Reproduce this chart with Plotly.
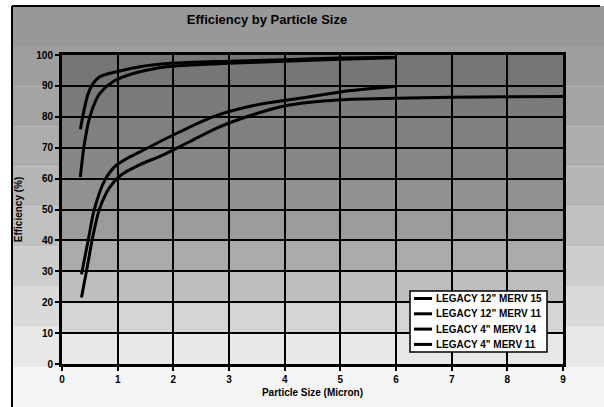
import plotly.graph_objects as go

# ---- data ----
x_12_m15 = [0.33, 0.40, 0.47, 0.56, 0.68, 0.98, 1.40, 1.94, 3.0, 4.0, 5.0, 6.0]
y_12_m15 = [76.0, 82.5, 87.5, 90.8, 93.0, 94.6, 96.2, 97.3, 98.0, 98.5, 99.0, 99.3]

x_12_m11 = [0.33, 0.40, 0.50, 0.60, 0.68, 0.92, 1.28, 1.88, 3.0, 4.0, 5.0, 6.0]
y_12_m11 = [60.5, 71.0, 80.0, 85.0, 87.6, 91.4, 94.0, 96.2, 97.3, 98.0, 98.6, 99.1]

x_4_m14 = [0.35, 0.47, 0.58, 0.77, 0.98, 1.58, 2.10, 2.71, 3.40, 4.27, 5.20, 6.0]
y_4_m14 = [29.0, 40.0, 50.0, 59.5, 64.4, 70.3, 75.0, 80.0, 83.5, 86.0, 88.5, 89.8]

x_4_m11 = [0.35, 0.45, 0.54, 0.67, 0.85, 1.05, 1.40, 1.80, 2.30, 2.80, 3.40, 4.0, 5.0, 6.0, 7.0, 8.0, 9.0]
y_4_m11 = [21.5, 31.0, 40.0, 50.0, 57.0, 61.0, 64.5, 67.5, 72.0, 76.5, 80.5, 83.5, 85.5, 86.0, 86.3, 86.5, 86.6]

series_names = ['LEGACY 12" MERV 15', 'LEGACY 12" MERV 11', 'LEGACY 4" MERV 14', 'LEGACY 4" MERV 11']
x_ticks = list(range(0, 10))
y_ticks = list(range(0, 101, 10))

# background shading bands (bottom value, gray level)
plot_bands_lo = [0, 10, 20, 30, 40, 50, 60, 70, 80, 90]
plot_band_gray = [232, 212, 190, 170, 155, 145, 135, 128, 122, 118]
outer_bands_lo = [0.0, 0.1, 0.2, 0.3, 0.4, 0.5, 0.6, 0.7, 0.8, 0.9]
outer_band_gray = [245, 232, 218, 205, 192, 182, 172, 164, 158, 152]

FONT = "Liberation Sans"

fig = go.Figure()
for xs, ys, nm in zip([x_12_m15, x_12_m11, x_4_m14, x_4_m11],
                      [y_12_m15, y_12_m11, y_4_m14, y_4_m11], series_names):
    fig.add_trace(go.Scatter(x=xs, y=ys, name=nm, mode="lines", showlegend=False,
                             line=dict(color="black", width=3, shape="spline", smoothing=0.8)))

shapes = []
annotations = []
px_l, px_r, px_t, px_b = 62, 563, 55, 364
W, H = 604, 407
def px2paper_x(px):
    return (px - px_l) / (px_r - px_l)
def px2paper_y(py):
    return (px_b - py) / (px_b - px_t)
y_top_outer = px2paper_y(6)
y_bot_outer = px2paper_y(407)
for lo, g in zip(outer_bands_lo, outer_band_gray):
    y0 = y_bot_outer + (y_top_outer - y_bot_outer) * lo
    y1 = y_bot_outer + (y_top_outer - y_bot_outer) * (lo + 0.1)
    shapes.append(dict(type="rect", xref="paper", yref="paper", layer="below",
                       x0=px2paper_x(12), x1=px2paper_x(604), y0=y0, y1=y1,
                       line=dict(width=0), fillcolor=f"rgb({g},{g},{g})"))
shapes.append(dict(type="line", xref="paper", yref="paper", layer="above",
                   x0=px2paper_x(12), x1=px2paper_x(12), y0=y_bot_outer, y1=y_top_outer,
                   line=dict(color="black", width=2)))
shapes.append(dict(type="line", xref="paper", yref="paper", layer="above",
                   x0=px2paper_x(12), x1=px2paper_x(600), y0=y_top_outer, y1=y_top_outer,
                   line=dict(color="black", width=2)))
for lo, g in zip(plot_bands_lo, plot_band_gray):
    shapes.append(dict(type="rect", xref="x", yref="y", layer="below",
                       x0=0, x1=9, y0=lo, y1=lo + 10,
                       line=dict(width=0), fillcolor=f"rgb({g},{g},{g})"))

# compact legend box (entries drawn from series_names)
leg_l, leg_r, leg_t, leg_b = 410, 547, 291, 352
shapes.append(dict(type="rect", xref="paper", yref="paper", layer="above",
                   x0=px2paper_x(leg_l), x1=px2paper_x(leg_r),
                   y0=px2paper_y(leg_b), y1=px2paper_y(leg_t),
                   line=dict(color="black", width=1.5), fillcolor="white"))
for i, nm in enumerate(series_names):
    yy = px2paper_y(leg_t + 7.5 + i * 15.3)
    shapes.append(dict(type="line", xref="paper", yref="paper", layer="above",
                       x0=px2paper_x(414), x1=px2paper_x(432), y0=yy, y1=yy,
                       line=dict(color="black", width=3)))
    annotations.append(dict(text=nm, xref="paper", yref="paper", x=px2paper_x(434), y=yy,
                            xanchor="left", yanchor="middle", showarrow=False,
                            font=dict(family=FONT, size=10, color="black", weight="bold")))

fig.update_layout(
    width=W, height=H,
    margin=dict(l=px_l, r=W - px_r, t=px_t, b=H - px_b),
    paper_bgcolor="white", plot_bgcolor="rgba(0,0,0,0)",
    shapes=shapes, annotations=annotations,
    title=dict(text="Efficiency by Particle Size", x=267 / W, xanchor="center",
               y=1 - 19 / H, yanchor="middle",
               font=dict(family=FONT, size=13, color="black", weight="bold")),
    font=dict(family=FONT, color="black"),
    showlegend=False,
)
fig.update_xaxes(range=[0, 9], tickvals=x_ticks, ticktext=[str(v) for v in x_ticks],
                 automargin=False,
                 showgrid=True, gridcolor="black", gridwidth=2, zeroline=False,
                 showline=True, linecolor="black", linewidth=3, mirror=True,
                 ticks="outside", ticklen=4, tickcolor="black", tickwidth=2,
                 tickfont=dict(family=FONT, size=10, color="black", weight="bold"),
                 title=dict(text="Particle Size (Micron)", standoff=5,
                            font=dict(family=FONT, size=10, color="black", weight="bold")))
fig.update_yaxes(range=[0, 100], tickvals=y_ticks, ticktext=[str(v) for v in y_ticks],
                 automargin=False,
                 showgrid=True, gridcolor="black", gridwidth=2, zeroline=False,
                 showline=True, linecolor="black", linewidth=3, mirror=True,
                 ticks="outside", ticklen=4, tickcolor="black", tickwidth=2,
                 tickfont=dict(family=FONT, size=10, color="black", weight="bold"),
                 title=dict(text="Efficiency (%)", standoff=12,
                            font=dict(family=FONT, size=10, color="black", weight="bold")))

fig.write_html("out.html", config={"displayModeBar": False},
               post_script="document.body.style.margin='0';")
